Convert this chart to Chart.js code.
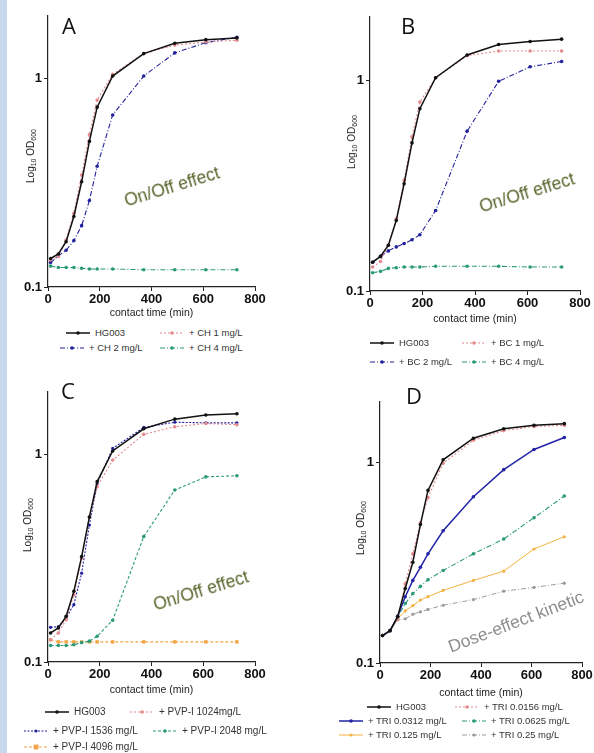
<!DOCTYPE html>
<html>
<head>
<meta charset="utf-8">
<script src="https://cdn.jsdelivr.net/npm/chart.js@4.4.1/dist/chart.umd.min.js"></script>
<style>
  html, body { margin: 0; padding: 0; background: #fff; }
  body { width: 594px; height: 753px; position: relative; overflow: hidden; font-family: "Liberation Sans", Arial, sans-serif; }
  .strip { position: absolute; left: 0; top: 0; width: 7px; height: 753px; background: #c8d8ec; }
  .panel { position: absolute; }
  .letter { position: absolute; font-family: "Open Sans", "Liberation Sans", sans-serif; font-size: 22px; color: #111; line-height: 1; }
  .ytitle { position: absolute; font-size: 10px; color: #222; white-space: nowrap; transform: translate(-50%, -50%) rotate(-90deg); }
  .ytitle sub { font-size: 7px; vertical-align: -2px; }
  .note { position: absolute; white-space: nowrap; font-family: "Liberation Sans", Arial, sans-serif; }
  .leg { position: absolute; color: #333; white-space: nowrap; display: flex; align-items: center; }
  .leg svg { margin-right: 5px; }
</style>
</head>
<body>
<div class="strip"></div>
<div id="root"></div>
<script>
  'use strict';

  // ---- data ----
  const times = [10, 40, 70, 100, 130, 160, 190, 250, 370, 490, 610, 730];
  const xTicks = [0, 200, 400, 600, 800];
  const yTicks = [0.1, 1];

  // Panel A - CH
  const hgA = [0.137, 0.144, 0.165, 0.218, 0.32, 0.5, 0.73, 1.03, 1.32, 1.48, 1.54, 1.57];
  const ch1 = [0.135, 0.14, 0.168, 0.226, 0.345, 0.54, 0.79, 1.05, 1.32, 1.45, 1.5, 1.53];
  const ch2 = [0.131, 0.141, 0.15, 0.167, 0.197, 0.26, 0.38, 0.67, 1.03, 1.33, 1.49, 1.58];
  const ch4 = [0.126, 0.124, 0.124, 0.124, 0.123, 0.122, 0.122, 0.122, 0.121, 0.121, 0.121, 0.121];

  // Panel B - BC
  const hgB = [0.137, 0.146, 0.165, 0.216, 0.323, 0.505, 0.734, 1.03, 1.32, 1.48, 1.53, 1.57];
  const bc1 = [0.13, 0.138, 0.165, 0.22, 0.335, 0.54, 0.79, 1.03, 1.31, 1.38, 1.38, 1.38];
  const bc2 = [0.137, 0.146, 0.155, 0.162, 0.168, 0.175, 0.185, 0.241, 0.574, 0.99, 1.16, 1.23];
  const bc4 = [0.122, 0.124, 0.128, 0.129, 0.13, 0.13, 0.13, 0.131, 0.131, 0.131, 0.13, 0.13];

  // Panel C - PVP-I
  const hgC = [0.138, 0.146, 0.166, 0.219, 0.322, 0.5, 0.74, 1.04, 1.33, 1.48, 1.55, 1.57];
  const pvp1024 = [0.128, 0.138, 0.16, 0.211, 0.316, 0.5, 0.7, 0.94, 1.25, 1.36, 1.41, 1.39];
  const pvp1536 = [0.147, 0.148, 0.163, 0.189, 0.268, 0.457, 0.725, 1.07, 1.35, 1.43, 1.42, 1.42];
  const pvp2048 = [0.12, 0.12, 0.12, 0.121, 0.124, 0.126, 0.133, 0.159, 0.402, 0.674, 0.78, 0.79];
  const pvp4096 = [0.128, 0.125, 0.125, 0.125, 0.125, 0.125, 0.125, 0.125, 0.125, 0.125, 0.125, 0.125];

  // Panel D - TRI
  const hgD = [0.137, 0.145, 0.17, 0.235, 0.318, 0.49, 0.725, 1.03, 1.32, 1.47, 1.53, 1.56];
  const tri0156 = [0.137, 0.145, 0.166, 0.248, 0.35, 0.5, 0.667, 0.99, 1.29, 1.44, 1.51, 1.53];
  const tri0312 = [0.137, 0.145, 0.171, 0.214, 0.258, 0.3, 0.35, 0.456, 0.674, 0.92, 1.16, 1.33];
  const tri0625 = [0.137, 0.145, 0.17, 0.198, 0.222, 0.241, 0.26, 0.289, 0.35, 0.415, 0.53, 0.68];
  const tri125 = [0.137, 0.145, 0.166, 0.182, 0.193, 0.206, 0.214, 0.23, 0.258, 0.287, 0.37, 0.426];
  const tri25 = [0.137, 0.145, 0.164, 0.166, 0.175, 0.18, 0.185, 0.194, 0.207, 0.228, 0.238, 0.25];

  // ---- styles ----
  const STYLES = {
    black:   { color: '#111111', dash: [], width: 1.5, point: 'circle', r: 1.8 },
    pink:    { color: '#e48a8e', dash: [2, 2], width: 1.1, point: 'circle', r: 1.8 },
    blueDD:  { color: '#22229c', dash: [5, 2, 1, 2], width: 1.1, point: 'circle', r: 1.8 },
    blueDot: { color: '#22229c', dash: [2, 1.5], width: 1.1, point: 'circle', r: 1.6 },
    blueSol: { color: '#2424a8', dash: [], width: 1.5, point: 'circle', r: 1.8 },
    greenDD: { color: '#2a9a78', dash: [5, 2, 1, 2], width: 1.1, point: 'circle', r: 1.8 },
    greenDa: { color: '#2a9a78', dash: [3, 2], width: 1.1, point: 'circle', r: 1.8 },
    orangeDa:{ color: '#f0a444', dash: [3, 2], width: 1.1, point: 'rect', r: 2.4 },
    orange:  { color: '#f2b240', dash: [], width: 1.0, point: 'circle', r: 1.6 },
    greyDD:  { color: '#9a9a9a', dash: [5, 2, 1, 2], width: 1.0, point: 'circle', r: 1.6 }
  };

  // ---- panels: canvas box + target chart area + legend placement ----
  const panels = [
    {
      letter: 'A', letterPos: [62, 14],
      box: { left: 0, top: 0, width: 290, height: 320 },
      area: { l: 48, t: 16, r: 255, b: 287 },
      ytitle: [31, 156], legFont: 9.5,
      note: { text: 'On/Off effect', x: 172, y: 187, size: 17.5, color: '#55652a', rot: -17 },
      series: [
        { label: 'HG003', data: hgA, style: 'black', leg: [66, 333] },
        { label: '+ CH 1 mg/L', data: ch1, style: 'pink', leg: [160, 333] },
        { label: '+ CH 2 mg/L', data: ch2, style: 'blueDD', leg: [60, 348] },
        { label: '+ CH 4 mg/L', data: ch4, style: 'greenDD', leg: [160, 348] }
      ]
    },
    {
      letter: 'B', letterPos: [401, 14],
      box: { left: 310, top: 0, width: 284, height: 326 },
      area: { l: 370, t: 17, r: 580, b: 291 },
      ytitle: [352, 142], legFont: 9.5,
      note: { text: 'On/Off effect', x: 527, y: 193, size: 17.5, color: '#55652a', rot: -17 },
      series: [
        { label: 'HG003', data: hgB, style: 'black', leg: [370, 343] },
        { label: '+ BC 1 mg/L', data: bc1, style: 'pink', leg: [462, 343] },
        { label: '+ BC 2 mg/L', data: bc2, style: 'blueDD', leg: [370, 362] },
        { label: '+ BC 4 mg/L', data: bc4, style: 'greenDD', leg: [462, 362] }
      ]
    },
    {
      letter: 'C', letterPos: [61, 379],
      box: { left: 0, top: 370, width: 290, height: 327 },
      area: { l: 48, t: 392, r: 255, b: 662 },
      ytitle: [28, 525], legFont: 10,
      note: { text: 'On/Off effect', x: 201, y: 591, size: 17.5, color: '#55652a', rot: -17 },
      series: [
        { label: 'HG003', data: hgC, style: 'black', leg: [45, 712] },
        { label: '+ PVP-I 1024mg/L', data: pvp1024, style: 'pink', leg: [130, 712] },
        { label: '+ PVP-I 1536 mg/L', data: pvp1536, style: 'blueDot', leg: [24, 731] },
        { label: '+ PVP-I 2048 mg/L', data: pvp2048, style: 'greenDa', leg: [153, 731] },
        { label: '+ PVP-I 4096 mg/L', data: pvp4096, style: 'orangeDa', leg: [24, 747] }
      ]
    },
    {
      letter: 'D', letterPos: [406, 384],
      box: { left: 310, top: 370, width: 284, height: 330 },
      area: { l: 380, t: 402, r: 582, b: 663 },
      ytitle: [361, 528], legFont: 9.5,
      note: { text: 'Dose-effect kinetic', x: 516, y: 622, size: 17.5, color: '#8e8e8e', rot: -21 },
      series: [
        { label: 'HG003', data: hgD, style: 'black', leg: [367, 707] },
        { label: '+ TRI 0.0156 mg/L', data: tri0156, style: 'pink', leg: [455, 707] },
        { label: '+ TRI 0.0312 mg/L', data: tri0312, style: 'blueSol', leg: [339, 721] },
        { label: '+ TRI 0.0625 mg/L', data: tri0625, style: 'greenDD', leg: [462, 721] },
        { label: '+ TRI 0.125 mg/L', data: tri125, style: 'orange', leg: [339, 735] },
        { label: '+ TRI 0.25 mg/L', data: tri25, style: 'greyDD', leg: [462, 735] }
      ]
    }
  ];

  const root = document.getElementById('root');

  function legendSwatch(st) {
    const w = 24, h = 8, cy = h / 2;
    const dash = st.dash.length ? ` stroke-dasharray="${st.dash.join(' ')}"` : '';
    const mark = st.point === 'rect'
      ? `<rect x="${w / 2 - st.r}" y="${cy - st.r}" width="${st.r * 2}" height="${st.r * 2}" fill="${st.color}"/>`
      : `<circle cx="${w / 2}" cy="${cy}" r="${st.r}" fill="${st.color}"/>`;
    return `<svg width="${w}" height="${h}"><line x1="0" y1="${cy}" x2="${w}" y2="${cy}" stroke="${st.color}" stroke-width="${st.width}"${dash}/>${mark}</svg>`;
  }

  function buildPanel(p) {
    const wrap = document.createElement('div');
    wrap.className = 'panel';
    wrap.style.left = p.box.left + 'px';
    wrap.style.top = p.box.top + 'px';
    const canvas = document.createElement('canvas');
    canvas.width = p.box.width;
    canvas.height = p.box.height;
    canvas.style.width = p.box.width + 'px';
    canvas.style.height = p.box.height + 'px';
    wrap.appendChild(canvas);
    root.appendChild(wrap);

    const yWidth = p.area.l - p.box.left;
    const xHeight = p.box.top + p.box.height - p.area.b;
    const tickFont = { family: 'Liberation Sans', size: 13, weight: 'bold' };

    new Chart(canvas.getContext('2d'), {
      type: 'line',
      data: {
        datasets: p.series.map(s => {
          const st = STYLES[s.style];
          return {
            label: s.label,
            data: times.map((t, i) => ({ x: t, y: s.data[i] })),
            borderColor: st.color,
            backgroundColor: st.color,
            borderWidth: st.width,
            borderDash: st.dash,
            pointStyle: st.point,
            pointRadius: st.r,
            pointBorderWidth: 0,
            tension: 0,
            fill: false
          };
        })
      },
      options: {
        responsive: false,
        animation: false,
        devicePixelRatio: 1,
        layout: { padding: { top: p.area.t - p.box.top, right: p.box.left + p.box.width - p.area.r, left: 0, bottom: 0 } },
        plugins: { legend: { display: false }, tooltip: { enabled: false } },
        scales: {
          x: {
            type: 'linear', min: 0, max: 800,
            afterFit: s => { s.height = xHeight; },
            afterBuildTicks: s => { s.ticks = xTicks.map(v => ({ value: v })); },
            grid: { display: true, drawOnChartArea: false, drawTicks: true, tickLength: 4, color: '#222' },
            border: { display: true, color: '#222', width: 1.2 },
            ticks: { color: '#111', padding: 1, font: tickFont, maxRotation: 0 },
            title: { display: true, text: 'contact time (min)', color: '#222', padding: { top: 0, bottom: 1 }, font: { family: 'Liberation Sans', size: 10.5 } }
          },
          y: {
            type: 'logarithmic', min: 0.1, max: 2,
            afterFit: s => { s.width = yWidth; },
            afterBuildTicks: s => { s.ticks = yTicks.map(v => ({ value: v })); },
            grid: { display: true, drawOnChartArea: false, drawTicks: true, tickLength: 4, color: '#222' },
            border: { display: true, color: '#222', width: 1.2 },
            ticks: { color: '#111', padding: 2, font: tickFont, callback: v => String(v) }
          }
        }
      }
    });

    const letter = document.createElement('div');
    letter.className = 'letter';
    letter.textContent = p.letter;
    letter.style.left = p.letterPos[0] + 'px';
    letter.style.top = p.letterPos[1] + 'px';
    root.appendChild(letter);

    const yt = document.createElement('div');
    yt.className = 'ytitle';
    yt.innerHTML = 'Log<sub>10</sub> OD<sub>600</sub>';
    yt.style.left = p.ytitle[0] + 'px';
    yt.style.top = p.ytitle[1] + 'px';
    root.appendChild(yt);

    const note = document.createElement('div');
    note.className = 'note';
    note.textContent = p.note.text;
    note.style.left = p.note.x + 'px';
    note.style.top = p.note.y + 'px';
    note.style.fontSize = p.note.size + 'px';
    note.style.color = p.note.color;
    note.style.transform = `translate(-50%, -50%) rotate(${p.note.rot}deg)`;
    root.appendChild(note);

    p.series.forEach(s => {
      const item = document.createElement('div');
      item.className = 'leg';
      item.style.left = s.leg[0] + 'px';
      item.style.top = (s.leg[1] - 6) + 'px';
      item.style.fontSize = p.legFont + 'px';
      item.innerHTML = legendSwatch(STYLES[s.style]) + '<span>' + s.label + '</span>';
      root.appendChild(item);
    });
  }

  panels.forEach(buildPanel);
</script>
</body>
</html>
